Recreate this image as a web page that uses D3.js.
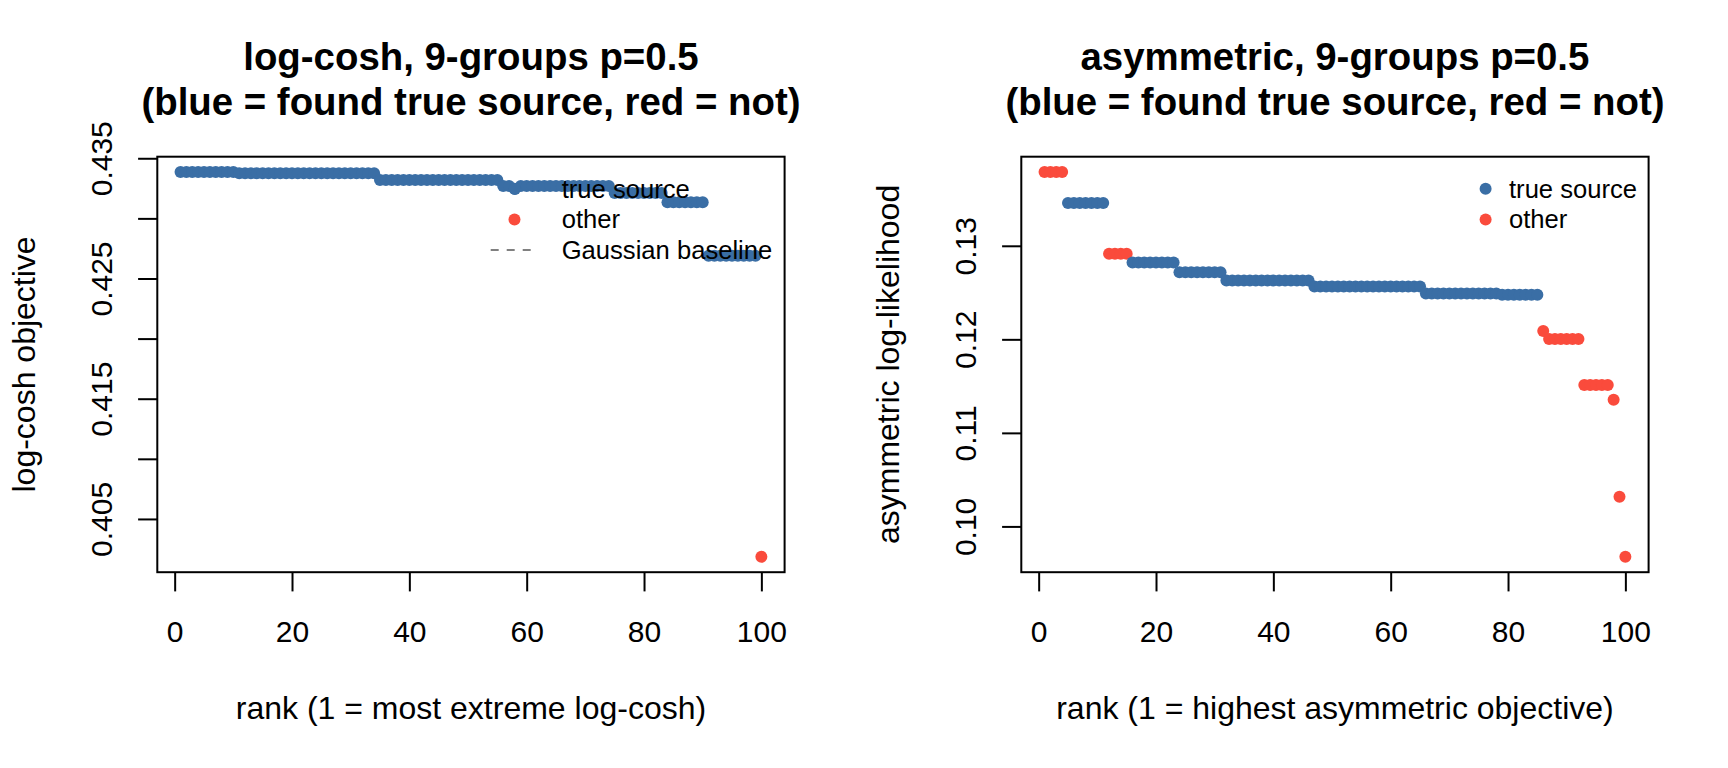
<!DOCTYPE html>
<html>
<head>
<meta charset="utf-8">
<script src="https://cdn.jsdelivr.net/npm/d3@7"></script>
<style>
  body { margin: 0; background: #fff; }
  svg { display: block; font-family: "Liberation Sans", Arial, Helvetica, sans-serif; }
</style>
</head>
<body>
<svg id="chart" width="1728" height="768"></svg>
<script>
// ---- Data (index i -> rank i+1) ----
const logcoshValues = [
  0.43385, 0.43385, 0.43385, 0.43385, 0.43385, 0.43385, 0.43385, 0.43385, 0.43385, 0.43385,
  0.43375, 0.43375, 0.43375, 0.43375, 0.43375, 0.43375, 0.43375, 0.43375, 0.43375, 0.43375,
  0.43375, 0.43375, 0.43375, 0.43375, 0.43375, 0.43375, 0.43375, 0.43375, 0.43375, 0.43375,
  0.43375, 0.43375, 0.43375, 0.43375, 0.43320, 0.43320, 0.43320, 0.43320, 0.43320, 0.43320,
  0.43320, 0.43320, 0.43320, 0.43320, 0.43320, 0.43320, 0.43320, 0.43320, 0.43320, 0.43320,
  0.43320, 0.43320, 0.43320, 0.43320, 0.43320, 0.43270, 0.43270, 0.43245, 0.43270, 0.43270,
  0.43270, 0.43270, 0.43270, 0.43270, 0.43270, 0.43270, 0.43270, 0.43270, 0.43270, 0.43270,
  0.43270, 0.43270, 0.43270, 0.43270, 0.43212, 0.43212, 0.43212, 0.43212, 0.43212, 0.43212,
  0.43212, 0.43212, 0.43212, 0.43135, 0.43135, 0.43135, 0.43135, 0.43135, 0.43135, 0.43135,
  0.42690, 0.42690, 0.42690, 0.42690, 0.42690, 0.42690, 0.42690, 0.42690, 0.42690, 0.40185
];
const logcoshFound = [
  1, 1, 1, 1, 1, 1, 1, 1, 1, 1,
  1, 1, 1, 1, 1, 1, 1, 1, 1, 1,
  1, 1, 1, 1, 1, 1, 1, 1, 1, 1,
  1, 1, 1, 1, 1, 1, 1, 1, 1, 1,
  1, 1, 1, 1, 1, 1, 1, 1, 1, 1,
  1, 1, 1, 1, 1, 1, 1, 1, 1, 1,
  1, 1, 1, 1, 1, 1, 1, 1, 1, 1,
  1, 1, 1, 1, 1, 1, 1, 1, 1, 1,
  1, 1, 1, 1, 1, 1, 1, 1, 1, 1,
  1, 1, 1, 1, 1, 1, 1, 1, 1, 0
];

const asymValues = [
  0.13788, 0.13788, 0.13788, 0.13788, 0.13457, 0.13457, 0.13457, 0.13457, 0.13457, 0.13457,
  0.13457, 0.12914, 0.12914, 0.12914, 0.12914, 0.12821, 0.12821, 0.12821, 0.12821, 0.12821,
  0.12821, 0.12821, 0.12821, 0.12718, 0.12718, 0.12718, 0.12718, 0.12718, 0.12718, 0.12718,
  0.12718, 0.12630, 0.12630, 0.12630, 0.12630, 0.12630, 0.12630, 0.12630, 0.12630, 0.12630,
  0.12630, 0.12630, 0.12630, 0.12630, 0.12630, 0.12630, 0.12565, 0.12565, 0.12565, 0.12565,
  0.12565, 0.12565, 0.12565, 0.12565, 0.12565, 0.12565, 0.12565, 0.12565, 0.12565, 0.12565,
  0.12565, 0.12565, 0.12565, 0.12565, 0.12565, 0.12490, 0.12490, 0.12490, 0.12490, 0.12490,
  0.12490, 0.12490, 0.12490, 0.12490, 0.12490, 0.12490, 0.12490, 0.12490, 0.12476, 0.12476,
  0.12476, 0.12476, 0.12476, 0.12476, 0.12476, 0.12088, 0.12004, 0.12004, 0.12004, 0.12004,
  0.12004, 0.12004, 0.11511, 0.11511, 0.11511, 0.11511, 0.11511, 0.11353, 0.10316, 0.09675
];
const asymFound = [
  0, 0, 0, 0, 1, 1, 1, 1, 1, 1,
  1, 0, 0, 0, 0, 1, 1, 1, 1, 1,
  1, 1, 1, 1, 1, 1, 1, 1, 1, 1,
  1, 1, 1, 1, 1, 1, 1, 1, 1, 1,
  1, 1, 1, 1, 1, 1, 1, 1, 1, 1,
  1, 1, 1, 1, 1, 1, 1, 1, 1, 1,
  1, 1, 1, 1, 1, 1, 1, 1, 1, 1,
  1, 1, 1, 1, 1, 1, 1, 1, 1, 1,
  1, 1, 1, 1, 1, 0, 0, 0, 0, 0,
  0, 0, 0, 0, 0, 0, 0, 0, 0, 0
];

const xTicks = [0, 20, 40, 60, 80, 100];
const logcoshYTicks = [0.405, 0.410, 0.415, 0.420, 0.425, 0.430, 0.435];
const logcoshYLabels = ["0.405", "", "0.415", "", "0.425", "", "0.435"];
const asymYTicks = [0.10, 0.11, 0.12, 0.13];
const asymYLabels = ["0.10", "0.11", "0.12", "0.13"];

const BLUE = "#3a6ea5";
const RED = "#fa4b3c";

// ---- Layout (R base graphics look) ----
const PANEL_W = 864;
const box = { left: 157.3, right: 784.6, top: 156.7, bottom: 572.2 };

const svg = d3.select("#chart");
svg.append("rect").attr("width", 1728).attr("height", 768).attr("fill", "#fff");

function padded(lo, hi) {
  const p = (hi - lo) * 0.04;
  return [lo - p, hi + p];
}

function panel(opts) {
  const g = svg.append("g").attr("transform", `translate(${opts.offset},0)`);
  const cx = (box.left + box.right) / 2;
  const cy = (box.top + box.bottom) / 2;

  const data = opts.values.map((v, i) => ({ rank: i + 1, value: v, found: opts.found[i] }));

  const x = d3.scaleLinear()
    .domain(padded(1, data.length))
    .range([box.left, box.right]);
  const y = d3.scaleLinear()
    .domain(padded(d3.min(opts.values), d3.max(opts.values)))
    .range([box.bottom, box.top]);

  // ---- Title ----
  opts.title.forEach((line, i) => {
    g.append("text")
      .attr("x", cx).attr("y", 70 + i * 45)
      .attr("text-anchor", "middle")
      .style("font-size", "38.4px").style("font-weight", "700")
      .text(line);
  });

  // ---- Points ----
  g.append("g").selectAll("circle")
    .data(data)
    .join("circle")
    .attr("cx", d => x(d.rank))
    .attr("cy", d => y(d.value))
    .attr("r", 6)
    .attr("fill", d => d.found ? BLUE : RED);

  // ---- Axes ----
  const xAxis = g.append("g")
    .attr("transform", `translate(0,${box.bottom})`)
    .call(d3.axisBottom(x).tickValues(xTicks).tickSize(19.2).tickSizeOuter(0));
  xAxis.select(".domain").remove();
  xAxis.selectAll("line").attr("stroke", "#000").attr("stroke-width", 2);
  xAxis.selectAll("text")
    .attr("y", 69.8).attr("dy", 0)
    .attr("fill", "#000")
    .style("font-size", "30px")
    .style("font-family", "'Liberation Sans', Arial, sans-serif");

  const yAxis = g.append("g")
    .attr("transform", `translate(${box.left},0)`)
    .call(d3.axisLeft(y).tickValues(opts.yTicks)
      .tickFormat((d, i) => opts.yLabels[i])
      .tickSize(19.2).tickSizeOuter(0));
  yAxis.select(".domain").remove();
  yAxis.selectAll("line").attr("stroke", "#000").attr("stroke-width", 2);
  yAxis.selectAll("text")
    .attr("x", 0).attr("y", 0).attr("dy", 0)
    .attr("text-anchor", "middle")
    .attr("transform", `translate(${112 - box.left},0) rotate(-90)`)
    .attr("fill", "#000")
    .style("font-size", "30px")
    .style("font-family", "'Liberation Sans', Arial, sans-serif");

  // ---- Box ----
  g.append("rect")
    .attr("x", box.left).attr("y", box.top)
    .attr("width", box.right - box.left).attr("height", box.bottom - box.top)
    .attr("fill", "none").attr("stroke", "#000").attr("stroke-width", 2);

  // ---- Axis titles ----
  g.append("text")
    .attr("x", cx).attr("y", 719)
    .attr("text-anchor", "middle")
    .style("font-size", "32px")
    .text(opts.xLabel);
  g.append("text")
    .attr("transform", `translate(35,${cy}) rotate(-90)`)
    .attr("text-anchor", "middle")
    .style("font-size", "32px")
    .text(opts.yLabel);

  // ---- Legend (topright, no box) ----
  const lg = g.append("g");
  opts.legend.forEach((item, i) => {
    const rowY = box.top + 32 + i * 30.7;
    if (item.pch) {
      lg.append("circle")
        .attr("cx", box.right - opts.legendPt)
        .attr("cy", rowY)
        .attr("r", 6)
        .attr("fill", item.color);
    }
    if (item.dash) {
      lg.append("line")
        .attr("x1", box.right - opts.legendPt - 23.8)
        .attr("x2", box.right - opts.legendPt + 23.8)
        .attr("y1", rowY).attr("y2", rowY)
        .attr("stroke", item.color).attr("stroke-width", 2)
        .attr("stroke-dasharray", "8,8");
    }
    lg.append("text")
      .attr("x", box.right - opts.legendText)
      .attr("y", rowY + 9)
      .style("font-size", "25.6px")
      .text(item.label);
  });
}

panel({
  offset: 0,
  values: logcoshValues,
  found: logcoshFound,
  yTicks: logcoshYTicks,
  yLabels: logcoshYLabels,
  title: ["log-cosh, 9-groups p=0.5", "(blue = found true source, red = not)"],
  xLabel: "rank (1 = most extreme log-cosh)",
  yLabel: "log-cosh objective",
  legendPt: 270.1,
  legendText: 222.9,
  legend: [
    { label: "true source", color: BLUE, pch: true },
    { label: "other", color: RED, pch: true },
    { label: "Gaussian baseline", color: "#808080", dash: true }
  ]
});

panel({
  offset: PANEL_W,
  values: asymValues,
  found: asymFound,
  yTicks: asymYTicks,
  yLabels: asymYLabels,
  title: ["asymmetric, 9-groups p=0.5", "(blue = found true source, red = not)"],
  xLabel: "rank (1 = highest asymmetric objective)",
  yLabel: "asymmetric log-likelihood",
  legendPt: 163,
  legendText: 139.6,
  legend: [
    { label: "true source", color: BLUE, pch: true },
    { label: "other", color: RED, pch: true }
  ]
});
</script>
</body>
</html>
